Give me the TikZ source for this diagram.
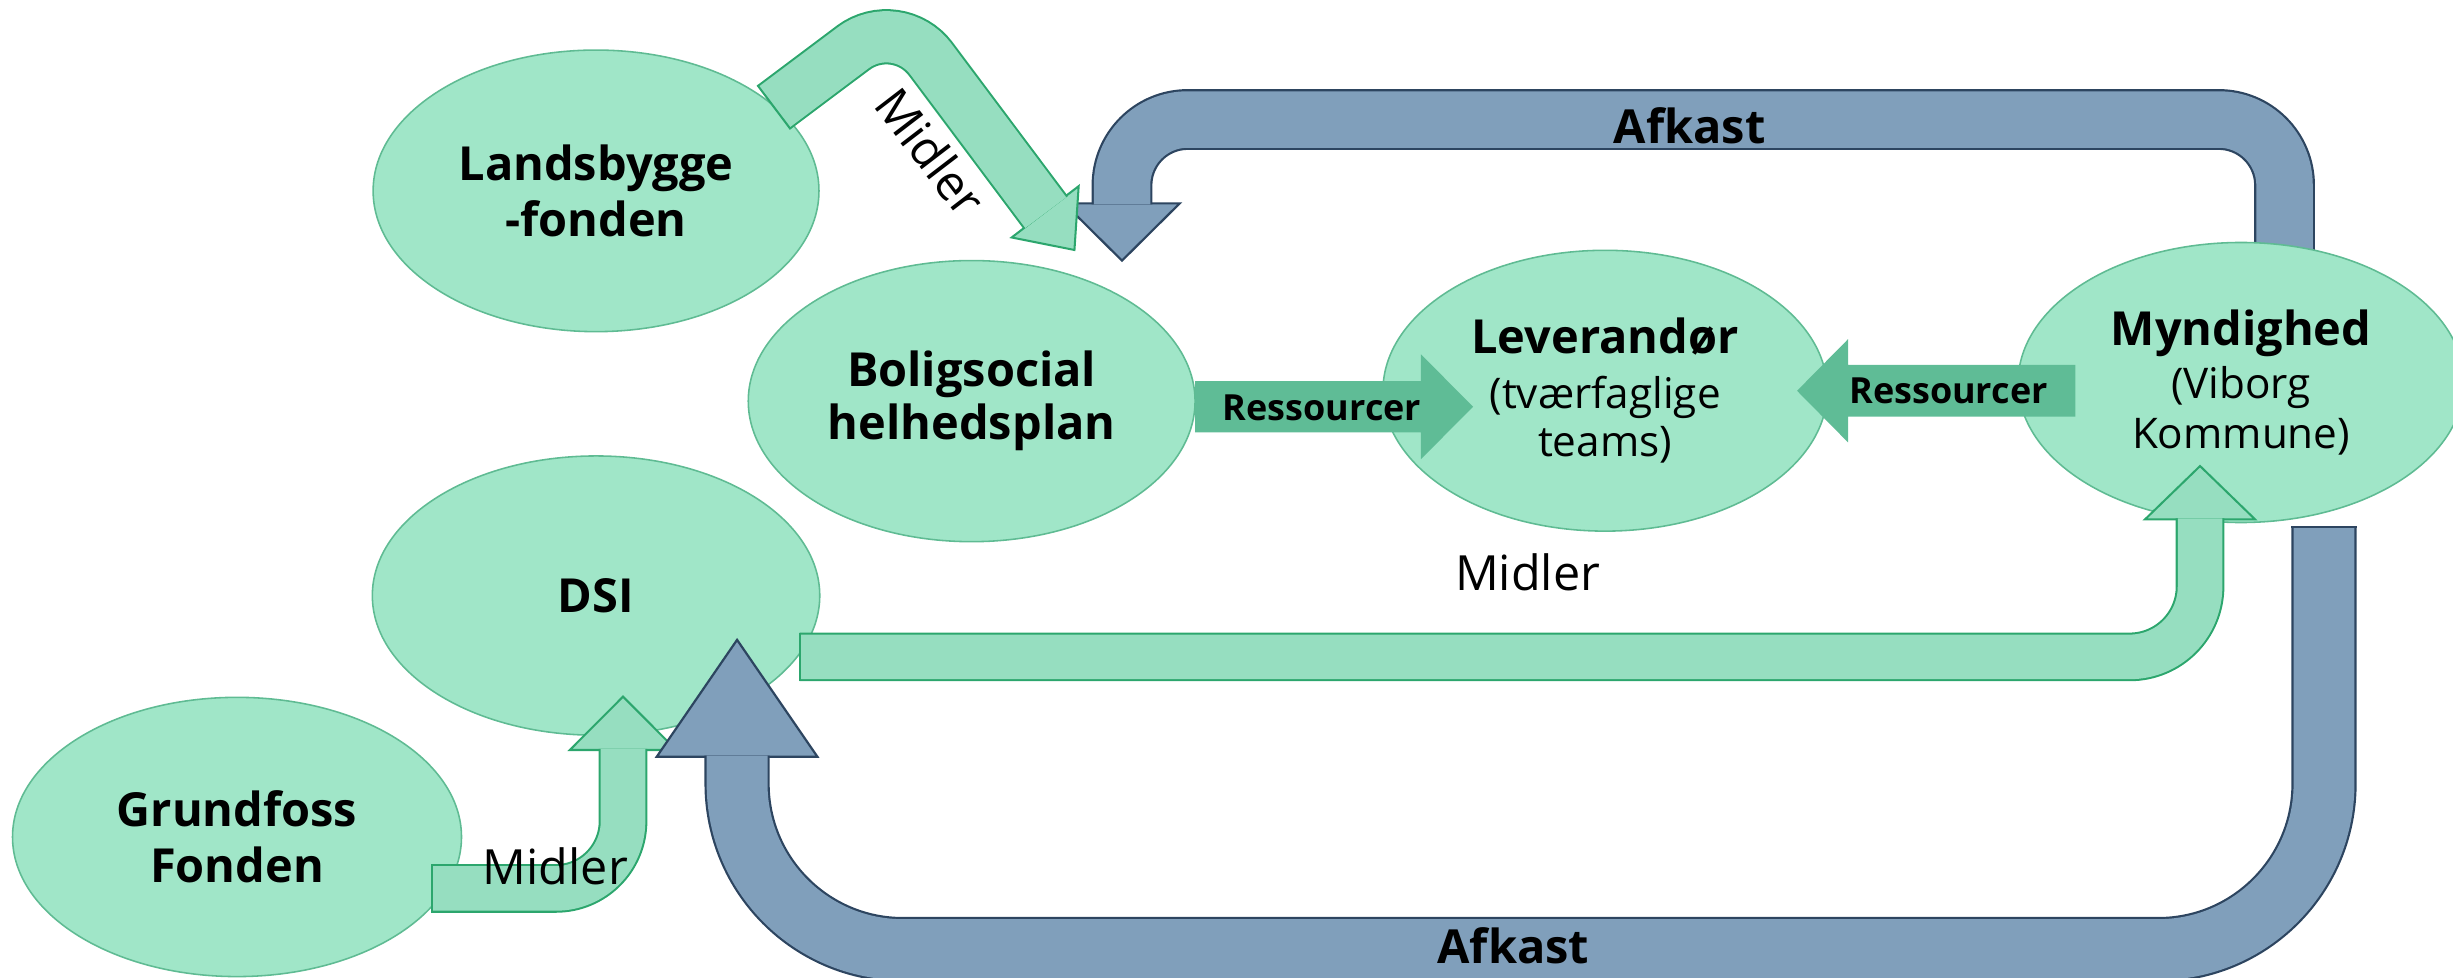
\documentclass[tikz,border=0pt]{standalone}
\usepackage{fontspec}
\setmainfont{Open Sans}
\usetikzlibrary{shapes.geometric}
\definecolor{efill}{HTML}{A0E6C8}
\definecolor{eline}{HTML}{5FBB93}
\definecolor{gfill}{HTML}{96DEC0}
\definecolor{gline}{HTML}{2CA66D}
\definecolor{rfill}{HTML}{5FBC96}
\definecolor{bfill}{HTML}{809FBB}
\definecolor{bline}{HTML}{2D4560}
\tikzset{
  blob/.style={ellipse, draw=eline, line width=1pt, fill=efill, inner sep=0pt, align=center, text=black, font=\fontsize{30}{36}\selectfont\bfseries},
  gshaft/.style={draw=gline, line width=1.3pt, double=gfill, line cap=butt},
  ghead/.style={draw=gline, line width=1.3pt, fill=gfill, line join=miter},
  gtail/.style={draw=gline, line width=1.3pt, line cap=butt},
  bshaft/.style={draw=bline, line width=1.4pt, double=bfill, line cap=butt},
  bhead/.style={draw=bline, line width=1.4pt, fill=bfill, line join=miter},
  btail/.style={draw=bline, line width=1.4pt, line cap=butt},
  rblock/.style={fill=rfill},
  boldlab/.style={font=\fontsize{30}{36}\selectfont\bfseries, inner sep=0pt},
  reslab/.style={font=\fontsize{23}{28}\selectfont\bfseries, inner sep=0pt},
  midlab/.style={font=\fontsize{31}{36}\selectfont, inner sep=0pt}
}
\begin{document}
\begin{tikzpicture}[x=1pt,y=-1pt]
\useasboundingbox (0,0) rectangle (1568,625.15);

% ---- top blue "Afkast" arrow (under the ellipses)
\coordinate (ab1s) at (1460.3,200);
\coordinate (ab1c1) at (1460.3,76.4);
\coordinate (ab1c2) at (717.2,76.4);
\coordinate (ab1e) at (717.2,130.7);
\coordinate (ab1w1) at (680.3,130);
\coordinate (ab1w2) at (754.1,130);
\coordinate (ab1tip) at (717.2,166.6);
\path[bhead] (ab1w1) -- (ab1tip) -- (ab1w2) -- cycle;
\draw[bshaft, double distance=36.1pt, rounded corners=42pt] (ab1s) -- (ab1c1) -- (ab1c2) -- (ab1e);

% ---- ellipses
\node[blob, minimum width=285pt, minimum height=180pt] (lands) at (381,122) {Landsbygge\\-fonden};
\node[blob, minimum width=285.6pt, minimum height=179.7pt, font=\fontsize{30}{34}\selectfont\bfseries] (bolig) at (621.1,256.4) {Boligsocial\\helhedsplan};
\node[blob, minimum width=284pt, minimum height=179.5pt, font=\fontsize{27}{33}\selectfont] (lev) at (1026,249.75) {{\fontsize{30}{33}\selectfont\bfseries Leverandør}\\[2pt](tværfaglige\\[-2pt]teams)};
\node[blob, minimum width=285pt, minimum height=179pt, font=\fontsize{27}{33}\selectfont] (mynd) at (1432.5,244.5) {{\fontsize{30}{33}\selectfont\bfseries Myndighed}\\[1pt](Viborg\\[-1pt]Kommune)};
\node[blob, minimum width=286pt, minimum height=178.5pt] (dsi) at (381,380.7) {DSI};
\node[blob, minimum width=287pt, minimum height=178.5pt] (grund) at (151.5,535) {Grundfoss\\Fonden};

% ---- Ressourcer arrows
\coordinate (r1a) at (764,260);
\coordinate (r1b) at (941.6,260);
\fill[rblock] (r1a) ++(0,-16.4) -- ++(144.3,0) -- ++(0,-17.1) -- (r1b) -- ++(-33.3,33.5) -- ++(0,-17.1) -- ++(-144.3,0) -- cycle;
\coordinate (r2a) at (1326.6,249.8);
\coordinate (r2b) at (1148.7,249.8);
\fill[rblock] (r2a) ++(0,-16.5) -- ++(-145.3,0) -- ++(0,-16.5) -- (r2b) -- ++(32.6,33) -- ++(0,-16.5) -- ++(145.3,0) -- cycle;
\node[reslab, anchor=base] (res1) at (845,268.5) {Ressourcer};
\node[reslab, anchor=base] (res2) at (1245.5,257.8) {Ressourcer};

% ---- top green "Midler" arrow (Landsbyggefonden -> helhedsplan)
\coordinate (g1s) at (494.75,68.5);
\coordinate (g1c) at (573.7,9.3);
\coordinate (g1e) at (668.47,135.92);
\coordinate (g1w1) at (689.5,119.0);
\coordinate (g1w2) at (646.66,151.8);
\coordinate (g1tip) at (686.8,159.8);
\coordinate (g1ta) at (484.14,54.4);
\coordinate (g1tb) at (505.36,82.6);
\path[ghead] (g1w1) -- (g1tip) -- (g1w2) -- cycle;
\draw[gshaft, double distance=32.7pt, rounded corners=35.5pt] (g1s) -- (g1c) -- (g1e);
\draw[gtail] (g1ta) -- (g1tb);

% ---- green arrow DSI -> Myndighed
\coordinate (g2s) at (511.1,419.9);
\coordinate (g2c) at (1406.3,419.9);
\coordinate (g2e) at (1406.3,331.35);
\coordinate (g2w1) at (1371.1,332);
\coordinate (g2w2) at (1441.5,332);
\coordinate (g2tip) at (1406.3,297.9);
\coordinate (g2ta) at (511.1,404.35);
\coordinate (g2tb) at (511.1,435.45);
\path[ghead] (g2w1) -- (g2tip) -- (g2w2) -- cycle;
\draw[gshaft, double distance=28.5pt, rounded corners=45pt] (g2s) -- (g2c) -- (g2e);
\draw[gtail] (g2ta) -- (g2tb);

% ---- green arrow Grundfoss -> DSI
\coordinate (g3s) at (275.9,567.9);
\coordinate (g3c) at (398.25,567.9);
\coordinate (g3e) at (398.25,478.75);
\coordinate (g3w1) at (364.25,479.4);
\coordinate (g3w2) at (432.25,479.4);
\coordinate (g3tip) at (398.25,445.3);
\coordinate (g3ta) at (275.9,552.35);
\coordinate (g3tb) at (275.9,583.45);
\path[ghead] (g3w1) -- (g3tip) -- (g3w2) -- cycle;
\draw[gshaft, double distance=28.5pt, rounded corners=43pt] (g3s) -- (g3c) -- (g3e);
\draw[gtail] (g3ta) -- (g3tb);

% ---- bottom blue "Afkast" arrow (Myndighed -> DSI)
\coordinate (ab2s) at (1485.55,336.7);
\coordinate (ab2c1) at (1485.55,607);
\coordinate (ab2c2) at (471.15,607);
\coordinate (ab2e) at (471.15,483.0);
\coordinate (ab2w1) at (419.8,483.7);
\coordinate (ab2w2) at (522.5,483.7);
\coordinate (ab2tip) at (471.15,409);
\coordinate (ab2ta) at (1464.7,336.7);
\coordinate (ab2tb) at (1506.4,336.7);
\path[bhead] (ab2w1) -- (ab2tip) -- (ab2w2) -- cycle;
\draw[bshaft, double distance=38.9pt, rounded corners=106pt] (ab2s) -- (ab2c1) -- (ab2c2) -- (ab2e);
\draw[btail] (ab2ta) -- (ab2tb);

% ---- labels
\node[boldlab, anchor=base] (afk1) at (1080,91.6) {Afkast};
\node[boldlab, anchor=base] (afk2) at (967.4,616.2) {Afkast};
\node[midlab, anchor=base] (mid1) at (976.5,377.6) {Midler};
\node[midlab, anchor=base] (mid2) at (355,565.7) {Midler};
\node[midlab, rotate=-52.5] (mid3) at (595,97) {Midler};
\end{tikzpicture}
\end{document}
